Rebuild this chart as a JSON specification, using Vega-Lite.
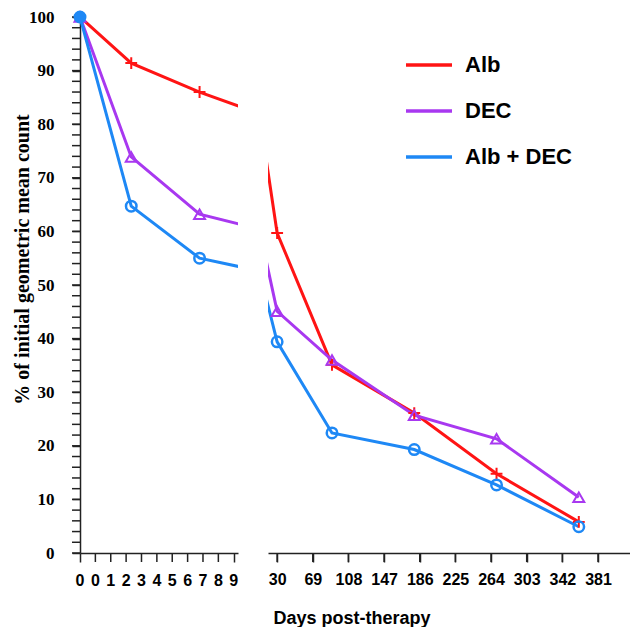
{
  "$schema": "https://vega.github.io/schema/vega-lite/v6.json",
  "autosize": {"type": "pad"},
  "padding": {"left": 12, "top": 6, "right": 0, "bottom": 0},
  "bounds": "flush",
  "spacing": 30,
  "background": "white",
  "config": {
    "view": {"stroke": null},
    "axis": {
      "ticks": true, "grid": false, "tickColor": "#222222", "tickWidth": 1.5,
      "domainColor": "#222222", "domainWidth": 1.5, "labelColor": "#000000",
      "labelFlush": false, "titleColor": "#000000", "labelFontWeight": "bold",
      "titleFontWeight": "bold"
    },
    "axisX": {"tickSize": 9, "labelPadding": 9, "labelFont": "Liberation Sans", "labelFontSize": 16,
      "titleFont": "Liberation Sans", "titleFontSize": 18},
    "axisY": {"tickSize": 8, "labelPadding": 18, "labelFont": "Liberation Serif", "labelFontSize": 17,
      "titleFont": "Liberation Serif", "titleFontSize": 20}
  },
  "datasets": {
    "counts": [
      {"day": 0, "series": "Alb", "pct": 100},
      {"day": 3, "series": "Alb", "pct": 91.4},
      {"day": 7, "series": "Alb", "pct": 86.0},
      {"day": 30, "series": "Alb", "pct": 59.7},
      {"day": 90, "series": "Alb", "pct": 35.1},
      {"day": 180, "series": "Alb", "pct": 26.1},
      {"day": 270, "series": "Alb", "pct": 14.8},
      {"day": 360, "series": "Alb", "pct": 5.8},
      {"day": 0, "series": "DEC", "pct": 100},
      {"day": 3, "series": "DEC", "pct": 73.9},
      {"day": 7, "series": "DEC", "pct": 63.2},
      {"day": 30, "series": "DEC", "pct": 45.1},
      {"day": 90, "series": "DEC", "pct": 36.0},
      {"day": 180, "series": "DEC", "pct": 25.7},
      {"day": 270, "series": "DEC", "pct": 21.3},
      {"day": 360, "series": "DEC", "pct": 10.4},
      {"day": 0, "series": "Alb + DEC", "pct": 100},
      {"day": 3, "series": "Alb + DEC", "pct": 64.7},
      {"day": 7, "series": "Alb + DEC", "pct": 55.0},
      {"day": 30, "series": "Alb + DEC", "pct": 39.4},
      {"day": 90, "series": "Alb + DEC", "pct": 22.4},
      {"day": 180, "series": "Alb + DEC", "pct": 19.3},
      {"day": 270, "series": "Alb + DEC", "pct": 12.7},
      {"day": 360, "series": "Alb + DEC", "pct": 4.9}
    ],
    "yticks": [
      {"v": 0}, {"v": 2}, {"v": 4}, {"v": 6}, {"v": 8}, {"v": 10}, {"v": 12}, {"v": 14}, {"v": 16}, {"v": 18},
      {"v": 20}, {"v": 22}, {"v": 24}, {"v": 26}, {"v": 28}, {"v": 30}, {"v": 32}, {"v": 34}, {"v": 36}, {"v": 38},
      {"v": 40}, {"v": 42}, {"v": 44}, {"v": 46}, {"v": 48}, {"v": 50}, {"v": 52}, {"v": 54}, {"v": 56}, {"v": 58},
      {"v": 60}, {"v": 62}, {"v": 64}, {"v": 66}, {"v": 68}, {"v": 70}, {"v": 72}, {"v": 74}, {"v": 76}, {"v": 78},
      {"v": 80}, {"v": 82}, {"v": 84}, {"v": 86}, {"v": 88}, {"v": 90}, {"v": 92}, {"v": 94}, {"v": 96}, {"v": 98}, {"v": 100}
    ],
    "leftx": [
      {"v": 0, "t": "0"}, {"v": 0.9, "t": "0"}, {"v": 1.8, "t": "1"}, {"v": 2.7, "t": "2"}, {"v": 3.6, "t": "3"},
      {"v": 4.5, "t": "4"}, {"v": 5.4, "t": "5"}, {"v": 6.3, "t": "6"}, {"v": 7.2, "t": "7"}, {"v": 8.1, "t": "8"}, {"v": 9, "t": "9"}
    ],
    "rightx": [
      {"v": 30}, {"v": 69}, {"v": 108}, {"v": 147}, {"v": 186}, {"v": 225}, {"v": 264}, {"v": 303}, {"v": 342}, {"v": 381}
    ]
  },
  "resolve": {
    "scale": {"x": "independent", "color": "independent"},
    "legend": {"color": "independent"}
  },
  "hconcat": [
    {
      "width": 158,
      "height": 536,
      "layer": [
        {
          "data": {"name": "counts"},
          "mark": {"type": "line", "clip": true, "strokeWidth": 3},
          "encoding": {
            "x": {
              "field": "day", "type": "quantitative",
              "scale": {"domain": [0, 9.25], "nice": false, "zero": false},
              "axis": {"values": [0, 9], "labels": false, "title": null}
            },
            "y": {
              "field": "pct", "type": "quantitative",
              "scale": {"domain": [0, 100], "nice": false},
              "axis": {
                "values": [0, 10, 20, 30, 40, 50, 60, 70, 80, 90, 100],
                "title": "% of initial geometric mean count",
                "titleX": -48, "titleY": 242, "titleBaseline": "bottom", "titleAngle": -90
              }
            },
            "color": {
              "field": "series", "type": "nominal",
              "scale": {"domain": ["Alb", "DEC", "Alb + DEC"], "range": ["#ff1414", "#a838f0", "#1e88f5"]},
              "legend": null
            }
          }
        },
        {
          "data": {"name": "yticks"},
          "mark": {"type": "rule", "color": "#222222", "strokeWidth": 1.5, "x2Offset": -8},
          "encoding": {
            "y": {"field": "v", "type": "quantitative"},
            "x": {"datum": 0, "type": "quantitative"},
            "x2": {"datum": 0}
          }
        },
        {
          "data": {"name": "leftx"},
          "transform": [{"filter": "datum.v > 0 && datum.v < 9"}],
          "mark": {"type": "rule", "color": "#222222", "strokeWidth": 1.5, "y2Offset": 9},
          "encoding": {
            "x": {"field": "v", "type": "quantitative"},
            "y": {"datum": 0, "type": "quantitative"},
            "y2": {"datum": 0}
          }
        },
        {
          "data": {"name": "leftx"},
          "mark": {"type": "text", "font": "Liberation Sans", "fontWeight": "bold", "fontSize": 16, "color": "#000000", "baseline": "middle", "align": "center", "dy": 28},
          "encoding": {
            "x": {"field": "v", "type": "quantitative"},
            "y": {"datum": 0, "type": "quantitative"},
            "text": {"field": "t"}
          }
        },
        {
          "data": {"name": "counts"},
          "transform": [{"filter": "datum.day <= 9 && datum.series == 'Alb'"}],
          "mark": {"type": "point", "shape": "M-1,0H1M0,-1V1", "filled": false, "strokeWidth": 2, "size": 140, "opacity": 1, "color": "#ff1414"},
          "encoding": {
            "x": {"field": "day", "type": "quantitative"},
            "y": {"field": "pct", "type": "quantitative"}
          }
        },
        {
          "data": {"name": "counts"},
          "transform": [{"filter": "datum.day <= 9 && datum.series == 'DEC'"}],
          "mark": {"type": "point", "shape": "triangle-up", "filled": false, "strokeWidth": 2, "size": 120, "opacity": 1, "color": "#a838f0"},
          "encoding": {
            "x": {"field": "day", "type": "quantitative"},
            "y": {"field": "pct", "type": "quantitative"}
          }
        },
        {
          "data": {"name": "counts"},
          "transform": [{"filter": "datum.day <= 9 && datum.series == 'Alb + DEC'"}],
          "mark": {"type": "point", "shape": "circle", "filled": false, "strokeWidth": 2.5, "size": 110, "opacity": 1, "color": "#1e88f5"},
          "encoding": {
            "x": {"field": "day", "type": "quantitative"},
            "y": {"field": "pct", "type": "quantitative"}
          }
        },
        {
          "data": {"name": "counts"},
          "transform": [{"filter": "datum.day == 0 && datum.series == 'Alb + DEC'"}],
          "mark": {"type": "point", "shape": "circle", "filled": true, "size": 130, "opacity": 1, "color": "#1e88f5"},
          "encoding": {
            "x": {"field": "day", "type": "quantitative"},
            "y": {"field": "pct", "type": "quantitative"}
          }
        },
        {
          "mark": {"type": "rule", "color": "#222222", "strokeWidth": 1.5},
          "encoding": {"y": {"datum": 100, "type": "quantitative"}}
        },
        {
          "mark": {"type": "rule", "color": "#222222", "strokeWidth": 1.5},
          "encoding": {
            "x": {"datum": 8.95, "type": "quantitative"}, "x2": {"datum": 9.55},
            "y": {"datum": -0.85, "type": "quantitative"}, "y2": {"datum": 0.85}
          }
        },
        {
          "mark": {"type": "rule", "color": "#222222", "strokeWidth": 1.5},
          "encoding": {
            "x": {"datum": 8.95, "type": "quantitative"}, "x2": {"datum": 9.55},
            "y": {"datum": 99.15, "type": "quantitative"}, "y2": {"datum": 100.85}
          }
        }
      ]
    },
    {
      "width": 362,
      "height": 536,
      "layer": [
        {
          "data": {"name": "counts"},
          "mark": {"type": "line", "clip": true, "strokeWidth": 3},
          "encoding": {
            "x": {
              "field": "day", "type": "quantitative",
              "scale": {"domain": [20, 416], "nice": false, "zero": false},
              "axis": {
                "values": [30, 69, 108, 147, 186, 225, 264, 303, 342, 381],
                "title": "Days post-therapy",
                "titleX": 5, "titleY": 70, "titleAlign": "left", "titleBaseline": "alphabetic"
              }
            },
            "y": {"field": "pct", "type": "quantitative", "scale": {"domain": [0, 100], "nice": false}, "axis": null},
            "color": {
              "field": "series", "type": "nominal",
              "scale": {"domain": ["Alb", "DEC", "Alb + DEC"], "range": ["#ff1414", "#a838f0", "#1e88f5"]},
              "legend": {
                "orient": "none", "legendX": 136, "legendY": 23, "title": null,
                "symbolType": "stroke", "symbolSize": 2116, "symbolStrokeWidth": 3.5,
                "labelFont": "Liberation Sans", "labelFontWeight": "bold", "labelFontSize": 22,
                "labelColor": "#000000", "labelOffset": 11, "rowPadding": 10
              }
            }
          }
        },
        {
          "data": {"name": "rightx"},
          "mark": {"type": "rule", "color": "#222222", "strokeWidth": 1.5, "y2Offset": 9},
          "encoding": {
            "x": {"field": "v", "type": "quantitative"},
            "y": {"datum": 0, "type": "quantitative"},
            "y2": {"datum": 0}
          }
        },
        {
          "data": {"name": "counts"},
          "transform": [{"filter": "datum.day >= 30 && datum.series == 'Alb'"}],
          "mark": {"type": "point", "shape": "M-1,0H1M0,-1V1", "filled": false, "strokeWidth": 2, "size": 140, "opacity": 1, "color": "#ff1414"},
          "encoding": {
            "x": {"field": "day", "type": "quantitative"},
            "y": {"field": "pct", "type": "quantitative"}
          }
        },
        {
          "data": {"name": "counts"},
          "transform": [{"filter": "datum.day >= 30 && datum.series == 'DEC'"}],
          "mark": {"type": "point", "shape": "triangle-up", "filled": false, "strokeWidth": 2, "size": 120, "opacity": 1, "color": "#a838f0"},
          "encoding": {
            "x": {"field": "day", "type": "quantitative"},
            "y": {"field": "pct", "type": "quantitative"}
          }
        },
        {
          "data": {"name": "counts"},
          "transform": [{"filter": "datum.day >= 30 && datum.series == 'Alb + DEC'"}],
          "mark": {"type": "point", "shape": "circle", "filled": false, "strokeWidth": 2.5, "size": 110, "opacity": 1, "color": "#1e88f5"},
          "encoding": {
            "x": {"field": "day", "type": "quantitative"},
            "y": {"field": "pct", "type": "quantitative"}
          }
        },
        {
          "mark": {"type": "rule", "color": "#222222", "strokeWidth": 1.5},
          "encoding": {"y": {"datum": 100, "type": "quantitative"}}
        },
        {
          "mark": {"type": "rule", "color": "#222222", "strokeWidth": 1.5},
          "encoding": {
            "x": {"datum": 14.5, "type": "quantitative"}, "x2": {"datum": 25.5},
            "y": {"datum": -0.85, "type": "quantitative"}, "y2": {"datum": 0.85}
          }
        },
        {
          "mark": {"type": "rule", "color": "#222222", "strokeWidth": 1.5},
          "encoding": {
            "x": {"datum": 14.5, "type": "quantitative"}, "x2": {"datum": 25.5},
            "y": {"datum": 99.15, "type": "quantitative"}, "y2": {"datum": 100.85}
          }
        }
      ]
    }
  ]
}
